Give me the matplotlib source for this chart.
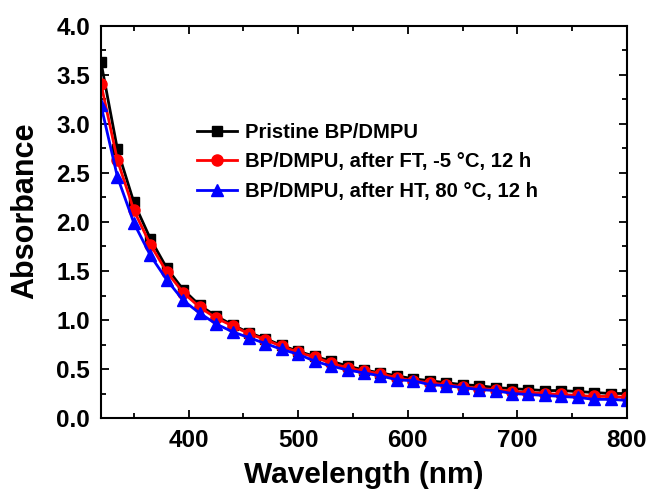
import matplotlib
matplotlib.use("Agg")
import matplotlib.pyplot as plt
from matplotlib.ticker import MultipleLocator, FormatStrFormatter

plt.rcParams['font.family'] = ['Liberation Sans', 'DejaVu Sans']
plt.rcParams['font.weight'] = 'bold'

wavelength = list(range(320, 801, 15))
pristine = [3.63, 2.74, 2.20, 1.83, 1.53, 1.31, 1.15, 1.04, 0.95, 0.87, 0.81, 0.74, 0.68,
            0.63, 0.58, 0.53, 0.49, 0.46, 0.43, 0.40, 0.38, 0.36, 0.34, 0.33, 0.31, 0.30,
            0.29, 0.28, 0.28, 0.27, 0.26, 0.25, 0.25]
after_ft = [3.41, 2.63, 2.12, 1.77, 1.49, 1.28, 1.13, 1.02, 0.94, 0.86, 0.80, 0.73, 0.67,
            0.62, 0.56, 0.51, 0.48, 0.45, 0.41, 0.38, 0.36, 0.34, 0.32, 0.30, 0.29, 0.27,
            0.26, 0.25, 0.24, 0.23, 0.22, 0.22, 0.21]
after_ht = [3.19, 2.46, 1.99, 1.66, 1.41, 1.20, 1.07, 0.96, 0.88, 0.82, 0.76, 0.70, 0.65,
            0.58, 0.53, 0.49, 0.46, 0.43, 0.39, 0.38, 0.34, 0.33, 0.31, 0.29, 0.28, 0.25,
            0.24, 0.23, 0.22, 0.21, 0.19, 0.19, 0.18]
labels = ["Pristine BP/DMPU", "BP/DMPU, after FT, -5 \u00b0C, 12 h", "BP/DMPU, after HT, 80 \u00b0C, 12 h"]

fig = plt.figure(figsize=(6.51, 4.94), dpi=100)
ax = fig.add_axes([101/651, 1-418/494, (627-101)/651, (418-26)/494])

ax.plot(wavelength, pristine, color='black', marker='s', ms=7, lw=2.0, label=labels[0])
ax.plot(wavelength, after_ft, color='red', marker='o', ms=8, lw=2.0, label=labels[1])
ax.plot(wavelength, after_ht, color='blue', marker='^', ms=8, lw=2.0, label=labels[2])

ax.set_xlim(320, 800)
ax.set_ylim(0, 4.0)
ax.xaxis.set_major_locator(MultipleLocator(100))
ax.xaxis.set_minor_locator(MultipleLocator(50))
ax.yaxis.set_major_locator(MultipleLocator(0.5))
ax.yaxis.set_minor_locator(MultipleLocator(0.25))
ax.tick_params(which='both', direction='in', top=True, right=True, width=1.3)
ax.tick_params(which='major', length=6, labelsize=17.5, pad=8)
ax.tick_params(which='minor', length=3.5)
ax.set_xticks([400, 500, 600, 700, 800])
ax.yaxis.set_major_formatter(FormatStrFormatter('%.1f'))
for s in ax.spines.values():
    s.set_linewidth(1.5)
for t in ax.get_xticklabels() + ax.get_yticklabels():
    t.set_fontweight('bold')

ax.set_xlabel("Wavelength (nm)", fontsize=21.5, fontweight='bold')
ax.xaxis.set_label_coords(0.5, -(483 - 418) / 392)
ax.xaxis.label.set_va('baseline')
ax.set_ylabel("Absorbance", fontsize=22, fontweight='bold')
ax.yaxis.set_label_coords((40 - 101) / 526, (418 - 211) / 392)

leg = fig.legend(loc='center left', bbox_to_anchor=(197/651, 1-162/494), frameon=False,
                 handlelength=1.95, handletextpad=0.4, labelspacing=0.52,
                 borderpad=0, borderaxespad=0, prop={'weight': 'bold', 'size': 14.6})

fig.savefig("out.png", dpi=100)
